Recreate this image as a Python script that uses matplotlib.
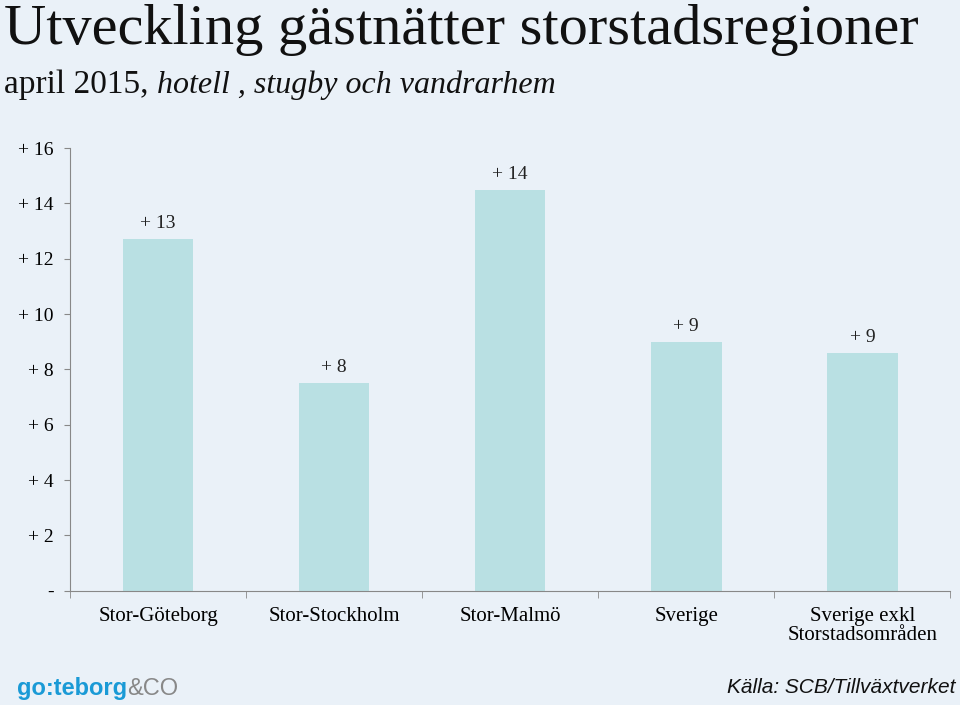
"""
Utveckling gästnätter storstadsregioner, april 2015 (hotell, stugby och vandrarhem).
"""

import numpy as np
import matplotlib

matplotlib.use("Agg")
import matplotlib.pyplot as plt


# ---------------------------------------------------------------------------
# Data
# ---------------------------------------------------------------------------

categories = [
    "Stor-Göteborg",
    "Stor-Stockholm",
    "Stor-Malmö",
    "Sverige",
    "Sverige exkl\nStorstadsområden",
]
values = [12.7, 7.5, 14.5, 9.0, 8.6]
value_labels = ["+ 13", "+ 8", "+ 14", "+ 9", "+ 9"]
y_ticks = [0, 2, 4, 6, 8, 10, 12, 14, 16]
y_tick_labels = ["-", "+ 2", "+ 4", "+ 6", "+ 8", "+ 10", "+ 12", "+ 14", "+ 16"]

BG = "#eaf1f8"
BAR = "#b9e0e3"
SERIF = "Liberation Serif"

# ---------------------------------------------------------------------------
# Plot
# ---------------------------------------------------------------------------

fig = plt.figure(figsize=(9.6, 7.05), dpi=100, facecolor=BG)
ax = fig.add_axes([0.073, 0.162, 0.917, 0.628], facecolor=BG)

x = np.arange(len(categories))
bars = ax.bar(x, values, width=0.4, color=BAR, zorder=2)

for bar, lab in zip(bars, value_labels):
    ax.annotate(lab, (bar.get_x() + bar.get_width() / 2, bar.get_height()),
                xytext=(0, 5), textcoords="offset points", ha="center", va="bottom",
                fontsize=14, family=SERIF, color="#222222")

ax.set_xlim(-0.5, len(categories) - 0.5)
ax.set_ylim(0, 16)
ax.set_yticks(y_ticks)
ax.set_yticklabels(y_tick_labels, family=SERIF, fontsize=14)
ax.set_xticks(x)
ax.set_xticklabels(categories, family=SERIF, fontsize=15, linespacing=1.0)
ax.set_xticks(np.arange(len(categories) + 1) - 0.5, minor=True)
ax.tick_params(axis="x", which="major", length=0, pad=12)
ax.tick_params(axis="x", which="minor", length=5, color="#888888")
ax.tick_params(axis="y", length=4, color="#888888", pad=8)

for side in ["top", "right"]:
    ax.spines[side].set_visible(False)
for side in ["left", "bottom"]:
    ax.spines[side].set_color("#888888")
    ax.spines[side].set_linewidth(0.8)

# Titles
fig.text(0.004, 0.995, "Utveckling gästnätter storstadsregioner", ha="left", va="top",
         fontsize=42, family=SERIF, color="#111111")
sub = fig.text(0.004, 0.868, "april 2015, ", ha="left", va="baseline",
               fontsize=24, family=SERIF, color="#111111")
ax.annotate("hotell , stugby och vandrarhem", xy=(1, 0), xycoords=sub,
            ha="left", va="bottom", fontsize=23, family=SERIF, style="italic",
            color="#111111", annotation_clip=False)

# Footer
logo = fig.text(0.018, 0.007, "go:teborg", ha="left", va="bottom", fontsize=17,
                family="Liberation Sans", weight="bold", color="#1a9ad6")
ax.annotate("&CO", xy=(1, 0), xycoords=logo, ha="left", va="bottom", fontsize=17,
            family="Liberation Sans", color="#888888", annotation_clip=False)
fig.text(0.995, 0.012, "Källa: SCB/Tillväxtverket", ha="right", va="bottom",
         fontsize=15, family="Liberation Sans", style="italic", color="#111111")

fig.savefig("out.png", dpi=100, facecolor=BG)
